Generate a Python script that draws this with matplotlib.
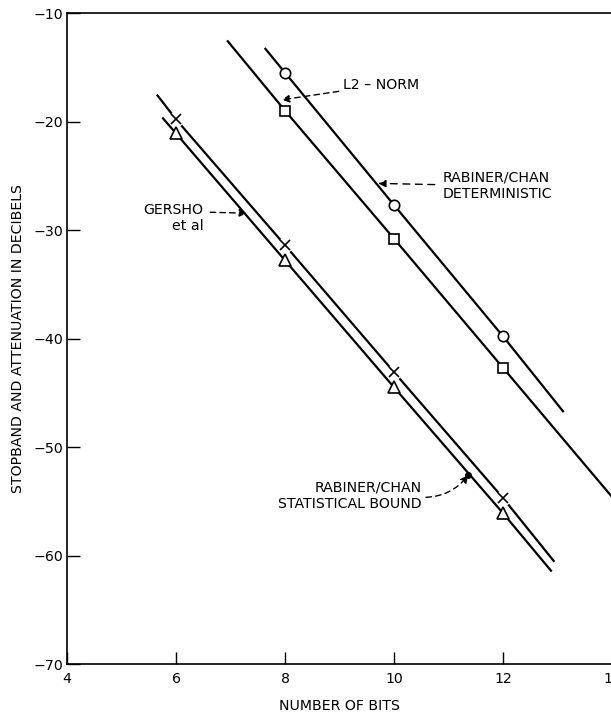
import numpy as np
import matplotlib
matplotlib.use("Agg")
import matplotlib.pyplot as plt

plt.rcParams['font.family'] = ['DejaVu Sans']

# marker data (bits, dB)
bits_det = [8, 10, 12]
det_db = [-15.5, -27.7, -39.8]          # rabiner/chan deterministic (circles)
l2_db = [-19.0, -30.8, -42.7]           # L2 norm (squares)
bits_stat = [6, 8, 10, 12]
gersho_db = [-19.8, -31.4, -43.1, -54.7]  # crosses
stat_db = [-21.1, -32.8, -44.5, -56.1]    # triangles

# drawn line extents
det_line_x = [7.64, 8, 10, 12, 13.1]
det_line_y = [-13.3] + det_db + [-46.7]
l2_line_x = [6.95, 8, 10, 12, 14.0]
l2_line_y = [-12.6] + l2_db + [-54.6]
gersho_line_x = [5.66, 6, 8, 10, 12, 12.93]
gersho_line_y = [-17.6] + gersho_db + [-60.5]
stat_line_x = [5.76, 6, 8, 10, 12, 12.88]
stat_line_y = [-19.7] + stat_db + [-61.4]

fig = plt.figure(figsize=(6.11, 7.16), dpi=100)
ax = fig.add_axes([0.1097, 0.0726, 0.892, 0.9092])

lw = 1.6
ax.plot(det_line_x, det_line_y, color="black", lw=lw, zorder=2)
ax.plot(l2_line_x, l2_line_y, color="black", lw=lw, zorder=2)
ax.plot(gersho_line_x, gersho_line_y, color="black", lw=lw, zorder=2)
# gaps in the line around the crosses
ax.plot(bits_stat, gersho_db, ls="none", marker="o", ms=11, mfc="white", mec="none", zorder=2.2)
ax.plot(stat_line_x, stat_line_y, color="black", lw=lw, zorder=2.5)

ax.plot(bits_det, det_db, ls="none", marker="o", ms=7.5, mfc="white", mec="black", mew=1.2, zorder=4)
ax.plot(bits_det, l2_db, ls="none", marker="s", ms=7, mfc="white", mec="black", mew=1.2, zorder=4)
ax.plot(bits_stat, gersho_db, ls="none", marker="x", ms=7, mec="black", mew=1.2, zorder=4)
ax.plot(bits_stat, stat_db, ls="none", marker="^", ms=8.5, mfc="white", mec="black", mew=1.2, zorder=4)

fs = 10.2
# annotations
ax.annotate("L2 \u2013 NORM", xy=(7.94, -18.0), xytext=(9.06, -16.64),
            fontsize=fs, ha="left", va="center",
            arrowprops=dict(arrowstyle="-|>", color="black", lw=1.0, ls=(0, (4, 3)),
                            mutation_scale=11, shrinkA=1, shrinkB=0))
ax.annotate("RABINER/CHAN\nDETERMINISTIC", xy=(9.71, -25.7), xytext=(10.9, -25.94),
            fontsize=fs, ha="left", va="center", linespacing=1.2,
            arrowprops=dict(arrowstyle="-|>", color="black", lw=1.0, ls=(0, (5, 4)),
                            mutation_scale=11, shrinkA=4, shrinkB=0,
                            connectionstyle="arc3,rad=0"))
ax.annotate("GERSHO\net al", xy=(7.30, -28.45), xytext=(6.50, -28.9),
            fontsize=fs, ha="right", va="center", multialignment="right", linespacing=1.2,
            arrowprops=dict(arrowstyle="-|>", color="black", lw=1.0, ls=(0, (4, 3)),
                            mutation_scale=11, shrinkA=3, shrinkB=0,
                            relpos=(1.0, 0.7)))
ax.annotate("RABINER/CHAN\nSTATISTICAL BOUND", xy=(11.36, -52.6), xytext=(10.51, -54.5),
            fontsize=fs, ha="right", va="center", multialignment="right", linespacing=1.2,
            arrowprops=dict(arrowstyle="-|>", color="black", lw=1.0, ls=(0, (4, 3)),
                            mutation_scale=11, shrinkA=1, shrinkB=0,
                            relpos=(1.0, 0.45),
                            connectionstyle="arc3,rad=0.25"))
ax.plot([11.36], [-52.6], ls="none", marker="o", ms=4, color="black", zorder=5)

ax.set_xlim(4, 14)
ax.set_ylim(-70, -10)
ax.set_xticks(np.arange(4, 15, 2))
ax.set_yticks(np.arange(-70, -9, 10))
ax.set_yticklabels(["\u221270", "\u221260", "\u221250", "\u221240", "\u221230", "\u221220", "\u221210"])
ax.tick_params(direction="in", length=9, width=1.0, labelsize=fs, colors="black")
ax.tick_params(axis="x", pad=6)
ax.tick_params(axis="y", pad=3)
for s in ax.spines.values():
    s.set_linewidth(1.2)
ax.spines["right"].set_bounds(-70, -51)

ax.set_xlabel("NUMBER OF BITS", fontsize=fs, labelpad=9)
ax.set_ylabel("STOPBAND AND ATTENUATION IN DECIBELS", fontsize=fs, labelpad=6)

fig.savefig("out.png", dpi=100)
